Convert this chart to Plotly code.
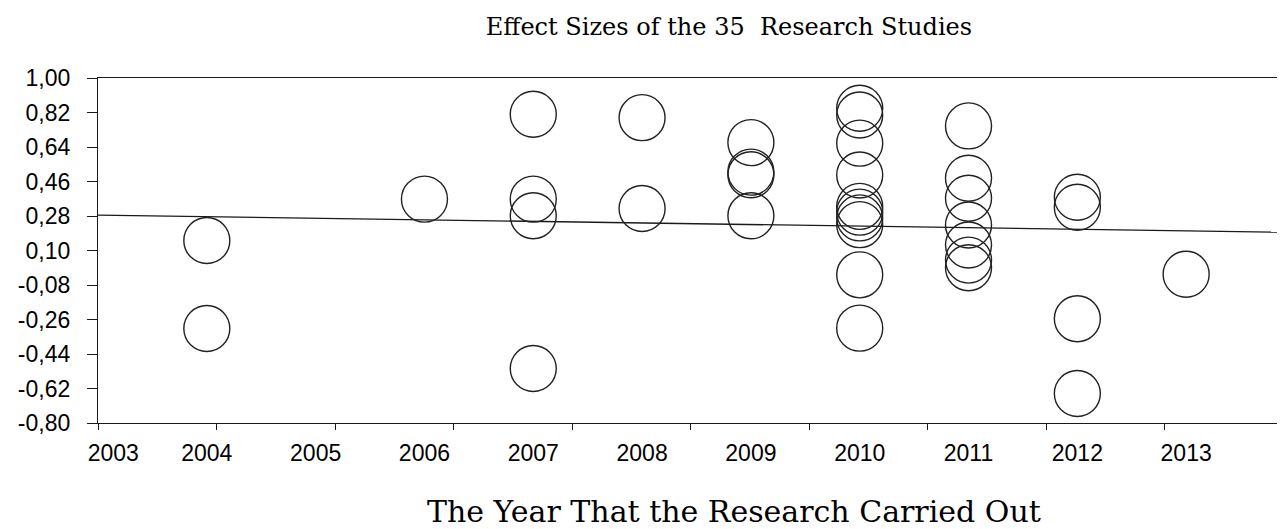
import plotly.graph_objects as go

# ---- data ----
years_2004 = [2004, 2004]
vals_2004 = [0.152, -0.307]
years_2006 = [2006]
vals_2006 = [0.368]
years_2007 = [2007, 2007, 2007, 2007]
vals_2007 = [0.811, 0.368, 0.281, -0.516]
years_2008 = [2008, 2008]
vals_2008 = [0.793, 0.319]
years_2009 = [2009, 2009, 2009, 2009]
vals_2009 = [0.663, 0.509, 0.495, 0.281]
years_2010 = [2010] * 10
vals_2010 = [0.842, 0.807, 0.660, 0.494, 0.330, 0.300, 0.270, 0.235, -0.027, -0.305]
years_2011 = [2011] * 7
vals_2011 = [0.750, 0.477, 0.373, 0.233, 0.129, 0.050, 0.010]
years_2012 = [2012] * 4
vals_2012 = [0.378, 0.326, -0.256, -0.646]
years_2013 = [2013]
vals_2013 = [-0.024]

trend_x = [2003.0, 2013.89]
trend_y = [0.285, 0.195]

x_tick_years = list(range(2003, 2014))
x_tick_labels = [str(y) for y in x_tick_years]
y_tick_vals = [1.00, 0.82, 0.64, 0.46, 0.28, 0.10, -0.08, -0.26, -0.44, -0.62, -0.80]
y_tick_labels = ["1,00", "0,82", "0,64", "0,46", "0,28", "0,10", "-0,08", "-0,26", "-0,44", "-0,62", "-0,80"]

title_text = "Effect Sizes of the 35  Research Studies"
x_title_text = "The Year That the Research Carried Out"

xs = years_2004 + years_2006 + years_2007 + years_2008 + years_2009 + years_2010 + years_2011 + years_2012 + years_2013
ys = vals_2004 + vals_2006 + vals_2007 + vals_2008 + vals_2009 + vals_2010 + vals_2011 + vals_2012 + vals_2013

X_RANGE = [2003.0, 2013.89]
# the first year label sits a little to the right of the axis corner in the reference
label_positions = [x_tick_years[0] + 0.14] + x_tick_years[1:]

# page body has an 8px margin, so the figure is sized to fit inside the window
W, H, OFF = 1277, 521, 8

fig = go.Figure()
fig.add_trace(go.Scatter(
    x=trend_x, y=trend_y, mode="lines",
    line=dict(color="#1a1a1a", width=1.3), showlegend=False, hoverinfo="skip"))
fig.add_trace(go.Scatter(
    x=xs, y=ys, mode="markers",
    marker=dict(symbol="circle", size=46, color="rgba(0,0,0,0)",
                line=dict(color="#222222", width=1.4)),
    showlegend=False))
# invisible trace for overlay axis carrying equal-division tick marks
fig.add_trace(go.Scatter(x=[0, 10], y=[None, None], xaxis="x2", mode="markers",
                         showlegend=False, hoverinfo="skip"))

tick_font = dict(family="Liberation Sans, Arial, sans-serif", size=23, color="#000000")
serif = "DejaVu Serif, serif"

fig.update_layout(
    width=W, height=H,
    margin=dict(l=98 - OFF, r=2, t=78 - OFF, b=H - (423 - OFF)),
    paper_bgcolor="white", plot_bgcolor="white",
    showlegend=False,
    title=dict(text=title_text, x=(729 - OFF) / W, xref="container", xanchor="center",
               y=1 - (27 - OFF) / H, yref="container", yanchor="middle",
               font=dict(family=serif, size=24, color="#000000")),
    xaxis=dict(range=X_RANGE, tickvals=label_positions, ticktext=x_tick_labels,
               ticks="", showgrid=False, zeroline=False,
               showline=True, linecolor="#1a1a1a", linewidth=1.3, mirror=True,
               tickfont=tick_font, ticklabelstandoff=9),
    xaxis2=dict(range=[0, 10], overlaying="x", anchor="y", side="bottom",
                tickvals=list(range(11)), ticks="outside", ticklen=6, tickwidth=1.3,
                tickcolor="#1a1a1a", showticklabels=False, showgrid=False,
                zeroline=False, showline=False),
    yaxis=dict(range=[-0.80, 1.00], tickvals=y_tick_vals, ticktext=y_tick_labels,
               ticks="outside", ticklen=10, tickwidth=1.3, tickcolor="#1a1a1a",
               showgrid=False, zeroline=False,
               showline=True, linecolor="#1a1a1a", linewidth=1.3, mirror=True,
               tickfont=tick_font, ticklabelstandoff=12),
    annotations=[dict(text=x_title_text, xref="paper", yref="paper",
                      x=(734 - 98) / 1185, y=(423 - 511) / 345,
                      xanchor="center", yanchor="middle", showarrow=False,
                      font=dict(family=serif, size=30, color="#000000"))],
)

fig.write_html("out.html")
